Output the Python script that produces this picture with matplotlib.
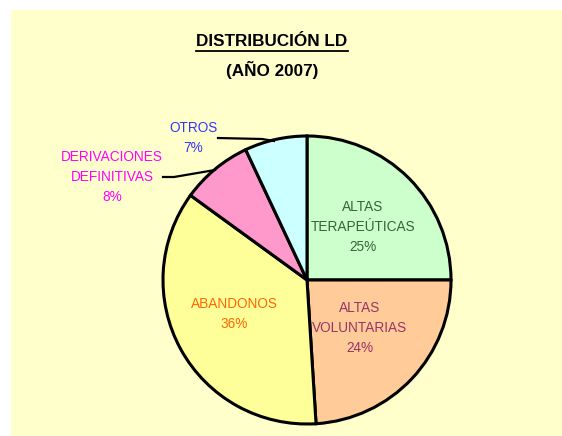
import matplotlib
matplotlib.use("Agg")
import matplotlib.pyplot as plt
from matplotlib.lines import Line2D

categories = ["ALTAS\nTERAPEÚTICAS", "ALTAS\nVOLUNTARIAS", "ABANDONOS", "DERIVACIONES\nDEFINITIVAS", "OTROS"]
values = [25, 24, 36, 8, 7]
pct_labels = ["25%", "24%", "36%", "8%", "7%"]
slice_colors = ["#CCFFCC", "#FFCC99", "#FFFF99", "#FF99CC", "#CCFFFF"]
text_colors = ["#336633", "#993366", "#FF6600", "#FF00FF", "#3333FF"]

W, H = 562, 436
FONT = ["Liberation Sans Narrow", "Liberation Sans", "DejaVu Sans"]
plt.rcParams['font.family'] = FONT

fig = plt.figure(figsize=(W / 100, H / 100), dpi=100)
fig.patch.set_facecolor("white")
ax = fig.add_axes([0, 0, 1, 1])
ax.set_xlim(0, W)
ax.set_ylim(0, H)
ax.set_aspect("equal")
ax.axis("off")

def Y(y):
    return H - y

# background panel
ax.add_patch(plt.Rectangle((11, 0), W - 11, H - 10, facecolor="#FFFFCC", edgecolor="none", zorder=0))

cx, cy, r = 307, 280, 144
wedges, _ = ax.pie(values, colors=slice_colors, startangle=90, counterclock=False,
                   center=(cx, Y(cy)), radius=r,
                   wedgeprops=dict(edgecolor="black", linewidth=2.2))
for w in wedges:
    w.set_zorder(2)
ax.set_xlim(0, W)
ax.set_ylim(0, H)

# labels (positions in pixel coords from top)
label_pos = [(363, 227), (360, 328), (234, 314), (112, 177), (193, 138)]
for cat, p, col, (x, y) in zip(categories, pct_labels, text_colors, label_pos):
    ax.text(x, Y(y), cat + "\n" + p, ha="center", va="center", color=col,
            fontsize=9.8, linespacing=1.58, zorder=3)

# leader lines
ax.add_line(Line2D([218, 262, 274], [Y(138), Y(139), Y(141)], color="black", lw=1.6, zorder=3))
ax.add_line(Line2D([163, 174, 215], [Y(177), Y(177), Y(170)], color="black", lw=1.6, zorder=3))

# title
t1 = ax.text(272, Y(42), "DISTRIBUCIÓN LD", ha="center", va="center", fontsize=12.3,
             fontweight="bold", color="black", zorder=3)
ax.text(272, Y(70), "(AÑO 2007)", ha="center", va="center", fontsize=12.3,
        fontweight="bold", color="black", zorder=3)
fig.canvas.draw()
bb = t1.get_window_extent()
ax.add_line(Line2D([bb.x0, bb.x1], [Y(51), Y(51)], color="black", lw=1.3, zorder=3))

fig.savefig("out.png", dpi=100, facecolor="white")
